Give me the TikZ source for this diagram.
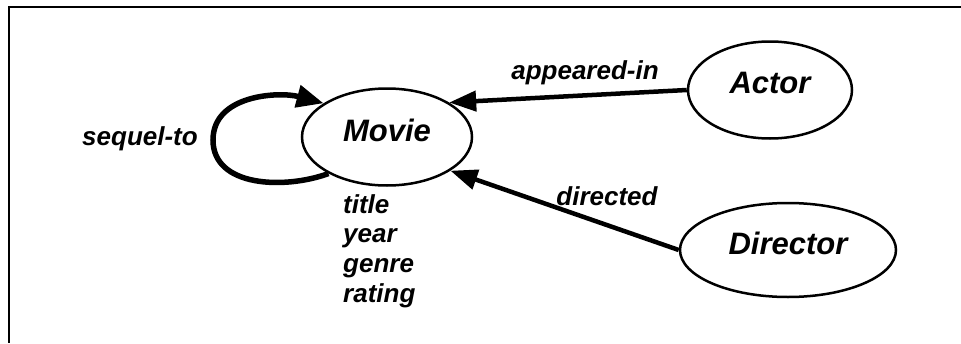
\documentclass[tikz,border=0pt]{standalone}
\usepackage{fontspec}
\setmainfont{Liberation Sans}
\usetikzlibrary{shapes.geometric,arrows.meta}
\tikzset{
  entity/.style={ellipse, draw, line width=2.5pt, inner sep=0pt,
    font=\fontsize{31}{36}\selectfont\bfseries\itshape, text depth=14pt},
  rel/.style={line width=4.5pt, -{Triangle[length=27pt,width=20pt]}},
  loop/.style={line width=5.5pt, -{Triangle[length=27pt,width=22pt]}},
  lbl/.style={font=\fontsize{26}{29.7}\selectfont\bfseries\itshape, inner sep=0pt},
}
\begin{document}
\begin{tikzpicture}[x=1pt,y=-1pt]
  \useasboundingbox (0,0) rectangle (961,343);
  % frame edges
  \coordinate (ftop) at (961,7);
  \coordinate (fcorner) at (9,7);
  \coordinate (fbottom) at (9,343);
  \draw[line width=2pt] (ftop) -- (fcorner) -- (fbottom);

  % entities
  \node[entity, minimum width=170pt, minimum height=97pt] (movie) at (387,137) {Movie};
  \node[entity, minimum width=164pt, minimum height=97pt] (actor) at (770,90) {Actor};
  \node[entity, minimum width=216pt, minimum height=94pt] (director) at (788,250) {Director};

  % relationships
  \draw[rel] (actor.west) -- (movie.29);
  \draw[rel] (director.west) -- (movie.-28);
  \draw[loop] (movie.212) to[out=200,in=-90] (213,140) to[out=90,in=165] (movie.152);

  % labels
  \node[lbl] (lapp) at (585,73) {appeared-in};
  \node[lbl] (ldir) at (607,196) {directed};
  \node[lbl] (lseq) at (140,139) {sequel-to};
  \node[lbl, anchor=north west, align=left] (attrs) at (343,194) {title\\year\\genre\\rating};
\end{tikzpicture}
\end{document}
